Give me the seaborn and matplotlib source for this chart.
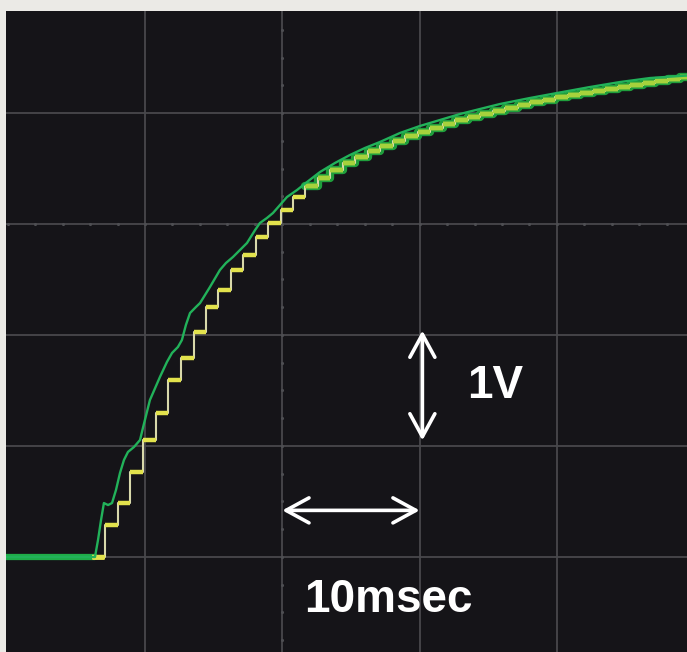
import numpy as np
import pandas as pd
import matplotlib
matplotlib.use("Agg")
import matplotlib.pyplot as plt
import seaborn as sns

# ---- data (time in ms, voltage in V) ----
green_t = [-1.0, 6.36, 6.58, 6.80, 7.01, 7.31, 7.60, 7.89, 8.18, 8.47, 8.76, 9.20, 9.64,
           9.85, 10.36, 11.09, 11.60, 11.97, 12.40, 12.69, 12.98, 13.28, 13.71, 14.01,
           14.73, 15.46, 15.90, 16.41, 16.92, 17.43, 18.02, 18.37, 18.88, 19.32, 19.83,
           20.34, 21.07, 21.80, 22.74, 23.84, 24.93, 26.02, 27.11, 28.57, 30.02, 31.48,
           32.94, 34.39, 35.85, 38.03, 40.00, 42.40, 44.59, 46.77, 50.0]
green_v = [0.0, 0.0, 0.153, 0.333, 0.486, 0.468, 0.486, 0.604, 0.757, 0.874, 0.946, 0.991,
           1.054, 1.162, 1.414, 1.622, 1.757, 1.838, 1.892, 1.955, 2.090, 2.198, 2.252,
           2.288, 2.432, 2.586, 2.649, 2.703, 2.766, 2.829, 2.946, 3.009, 3.054, 3.099,
           3.171, 3.243, 3.306, 3.378, 3.468, 3.550, 3.622, 3.685, 3.739, 3.820, 3.883,
           3.937, 3.991, 4.036, 4.081, 4.135, 4.180, 4.234, 4.279, 4.315, 4.342]

step_t = [6.14, 7.09, 8.03, 8.91, 9.85, 10.80, 11.68, 12.62, 13.57, 14.44, 15.32, 16.26,
          17.14, 18.08, 18.96, 19.90, 20.78, 21.65, 22.60, 23.47, 24.42, 25.29, 26.24,
          27.11, 28.06, 28.93, 29.88, 30.75, 31.70, 32.57, 33.52, 34.39, 35.34, 36.21,
          37.16, 38.03, 38.98, 39.85, 40.80, 41.67, 42.62, 43.49, 44.44, 45.31, 46.26,
          47.14, 48.08, 48.96, 50.0]
step_v = [0.0, 0.288, 0.486, 0.766, 1.054, 1.297, 1.595, 1.793, 2.027, 2.252, 2.405,
          2.586, 2.721, 2.883, 3.009, 3.126, 3.243, 3.342, 3.414, 3.486, 3.550, 3.604,
          3.658, 3.703, 3.748, 3.793, 3.829, 3.865, 3.901, 3.937, 3.964, 3.991, 4.018,
          4.045, 4.072, 4.099, 4.117, 4.144, 4.162, 4.180, 4.198, 4.216, 4.234, 4.252,
          4.270, 4.288, 4.306, 4.324, 4.324]

grid_t = [10, 20, 30, 40]
grid_v = [0, 1, 2, 3, 4]
label_v = "1V"
label_t = "10msec"

# ---- style ----
BG = "#151418"
FRAME = "#ebeae6"
GRID = "#48484c"

sns.set_theme(style="dark", rc={"axes.facecolor": BG, "figure.facecolor": FRAME})
plt.rcParams["font.family"] = ["Liberation Sans", "DejaVu Sans"]

fig = plt.figure(figsize=(6.87, 6.52), dpi=100)
ax = fig.add_axes([6 / 687, 0, 681 / 687, 641 / 652])
ax.set_facecolor(BG)

# grid
for t in grid_t:
    ax.axvline(t, color=GRID, lw=1.3, zorder=1)
for v in grid_v:
    ax.axhline(v, color=GRID, lw=1.3, zorder=1)

# faint minor ticks on centre lines
tick_t = np.arange(0, 50.1, 2.0)
tick_v = np.arange(-1, 5.01, 0.25)
ax.scatter(tick_t, np.full_like(tick_t, 3.0), marker="o", s=5, color="#4e4e52",
           linewidths=0, zorder=1)
ax.scatter(np.full_like(tick_v, 20.0), tick_v, marker="o", s=5, color="#4e4e52",
           linewidths=0, zorder=1)

gdf = pd.DataFrame({"t": green_t, "v": green_v})
sdf = pd.DataFrame({"t": step_t, "v": step_v})

# upper thick band (overlapping traces)
up = sdf[sdf.t >= 21.5]
sns.lineplot(data=up, x="t", y="v", ax=ax, drawstyle="steps-post", color="#1f9e3c",
             lw=6, zorder=2, estimator=None, sort=False)

# yellow staircase trace
sns.lineplot(data=sdf, x="t", y="v", ax=ax, drawstyle="steps-post", color="#d8d8aa",
             lw=1.5, zorder=3, estimator=None, sort=False)
ax.hlines(sdf.v[:-1], sdf.t[:-1], sdf.t[1:], color="#e2e24c", lw=3.2, zorder=3)
ax.hlines(up.v[:-1], up.t[:-1], up.t[1:], color="#a6d23c", lw=3.2, zorder=4)

# green trace
base = gdf[gdf.t <= 6.36]
sns.lineplot(data=base, x="t", y="v", ax=ax, color="#1fae48", lw=4.5, zorder=2,
             estimator=None, sort=False)
sns.lineplot(data=gdf, x="t", y="v", ax=ax, color="#22b25a", lw=1.7, zorder=5,
             estimator=None, sort=False)
ax.hlines([0.0], [6.14], [7.0], color="#e2e24c", lw=3.5, zorder=4)

# annotations
ap = dict(arrowstyle="<->,head_length=0.55,head_width=0.3", color="white", lw=2.6,
          shrinkA=0, shrinkB=0, mutation_scale=30)
ax.annotate("", xy=(30.2, 2.04), xytext=(30.2, 1.05), arrowprops=ap, zorder=6)
ax.annotate("", xy=(20.0, 0.42), xytext=(30.0, 0.42), arrowprops=ap, zorder=6)
ax.text(35.5, 1.54, label_v, color="white", fontsize=33, fontweight="bold",
        ha="center", va="center", zorder=6)
ax.text(27.75, -0.39, label_t, color="white", fontsize=33, fontweight="bold",
        ha="center", va="center", zorder=6)

ax.set_xlim(-0.12, 49.47)
ax.set_ylim(-0.856, 4.919)
ax.set_xlabel("")
ax.set_ylabel("")
ax.set_xticks([])
ax.set_yticks([])
for s in ax.spines.values():
    s.set_visible(False)
if ax.get_legend():
    ax.get_legend().remove()

fig.savefig("out.png", dpi=100, facecolor=FRAME)
